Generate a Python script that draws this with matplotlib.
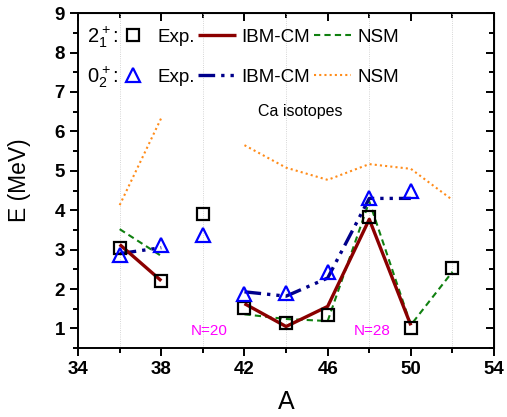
import matplotlib.pyplot as plt
import numpy as np
from matplotlib.lines import Line2D
from matplotlib.ticker import FixedLocator, MultipleLocator

plt.rcParams["font.family"] = ["Liberation Sans", "DejaVu Sans"]
plt.rcParams["mathtext.fontset"] = "custom"
plt.rcParams["mathtext.rm"] = "Liberation Sans"

# mass numbers of the Ca isotopes
A = np.array([36, 38, 40, 42, 44, 46, 48, 50, 52])
nan = np.nan

# 2+_1 energies (MeV)
e2_exp = [3.04, 2.21, 3.90, 1.52, 1.15, 1.33, 3.82, 1.02, 2.53]
e2_ibm = [3.13, 2.21, nan, 1.63, 1.05, 1.56, 3.77, 1.08, nan]
e2_nsm = [3.52, 2.84, nan, 1.36, 1.24, 1.19, 4.22, 1.09, 2.44]

# 0+_2 energies (MeV)
e0_exp = [2.87, 3.11, 3.37, 1.87, 1.90, 2.44, 4.30, 4.49, nan]
e0_ibm = [2.90, 3.05, nan, 1.93, 1.82, 2.28, 4.30, 4.30, nan]
e0_nsm = [4.13, 6.34, nan, 5.65, 5.08, 4.77, 5.17, 5.05, 4.26]

x_major = [34, 38, 42, 46, 50, 54]
x_minor = [36, 40, 44, 48, 52]

red = "#8b0000"
navy = "#00008b"
green = "#108010"
orange = "#ff8c1a"

fig = plt.figure(figsize=(5.07, 4.17), dpi=100)
ax = fig.add_axes([0.154, 0.165, 0.8205, 0.8035])

sq_style = dict(marker="s", ms=8.5, mfc="none", mec="black", mew=1.6, ls="none")
tri_style = dict(marker="^", ms=10, mfc="none", mec="#0000ff", mew=1.6, ls="none")
ibm2_style = dict(color=red, lw=2.4, solid_capstyle="butt")
nsm2_style = dict(color=green, lw=1.5, dashes=(3, 2))
ibm0_style = dict(color=navy, lw=2.4, dashes=(5, 1.8, 1, 1.8, 1, 1.8))
nsm0_style = dict(color=orange, lw=1.5, dashes=(1, 1.5))

ax.plot(A, e0_nsm, **nsm0_style)
ax.plot(A, e2_nsm, **nsm2_style)
ax.plot(A, e0_ibm, **ibm0_style)
ax.plot(A, e2_ibm, **ibm2_style)
ax.plot(A, e2_exp, **sq_style)
ax.plot(A, e0_exp, **tri_style)

ax.set_xlim(34, 54)
ax.set_ylim(0.5, 9)
ax.xaxis.set_major_locator(FixedLocator(x_major))
ax.xaxis.set_minor_locator(FixedLocator(x_minor))
ax.yaxis.set_major_locator(MultipleLocator(1))
ax.yaxis.set_minor_locator(MultipleLocator(0.5))
ax.grid(which="minor", axis="x", color="#c8c8c8", ls=":", lw=0.6)

for s in ax.spines.values():
    s.set_linewidth(1.4)
ax.tick_params(which="both", direction="out", width=1.4, labelsize=13.5,
               top=False, right=False)
ax.tick_params(which="major", length=6)
ax.tick_params(which="minor", length=3.5)
for lab in ax.get_xticklabels() + ax.get_yticklabels():
    lab.set_fontweight("bold")

# mirrored inward ticks on top and right
top = ax.secondary_xaxis("top")
top.xaxis.set_major_locator(FixedLocator(x_major))
top.xaxis.set_minor_locator(FixedLocator(x_minor))
top.tick_params(which="both", direction="in", width=1.4, labeltop=False)
top.tick_params(which="major", length=6)
top.tick_params(which="minor", length=3.5)
right = ax.secondary_yaxis("right")
right.yaxis.set_major_locator(MultipleLocator(1))
right.yaxis.set_minor_locator(MultipleLocator(0.5))
right.tick_params(which="both", direction="in", width=1.4, labelright=False)
right.tick_params(which="major", length=6)
right.tick_params(which="minor", length=3.5)

ax.set_xlabel("A", fontsize=18, labelpad=8)
ax.set_ylabel("E (MeV)", fontsize=16.5, labelpad=17)

ax.text(44.7, 6.5, "Ca isotopes", fontsize=11.5, ha="center", va="center")
ax.text(40.3, 0.93, "N=20", fontsize=11, color="#ff00ff", ha="center", va="center")
ax.text(48.15, 0.93, "N=28", fontsize=11, color="#ff00ff", ha="center", va="center")

# two-row legend
leg_kw = dict(ncol=3, frameon=False, fontsize=13.5, handlelength=2.0,
              handletextpad=0.3, columnspacing=0.2, borderaxespad=0,
              borderpad=0)
h2 = [Line2D([], [], **sq_style), Line2D([], [], **ibm2_style),
      Line2D([], [], **nsm2_style)]
h0 = [Line2D([], [], **tri_style), Line2D([], [], **ibm0_style),
      Line2D([], [], **nsm0_style)]
names = ["Exp.", "IBM-CM", "NSM"]
leg1 = ax.legend(h2, names, loc="center left", bbox_to_anchor=(0.0865, 0.928), **leg_kw)
ax.add_artist(leg1)
ax.legend(h0, names, loc="center left", bbox_to_anchor=(0.0865, 0.808), **leg_kw)
ax.text(0.022, 0.928, r"$\mathregular{2_1^+}$:", transform=ax.transAxes,
        fontsize=14.5, va="center")
ax.text(0.022, 0.808, r"$\mathregular{0_2^+}$:", transform=ax.transAxes,
        fontsize=14.5, va="center")

fig.savefig("out.png", dpi=100)
